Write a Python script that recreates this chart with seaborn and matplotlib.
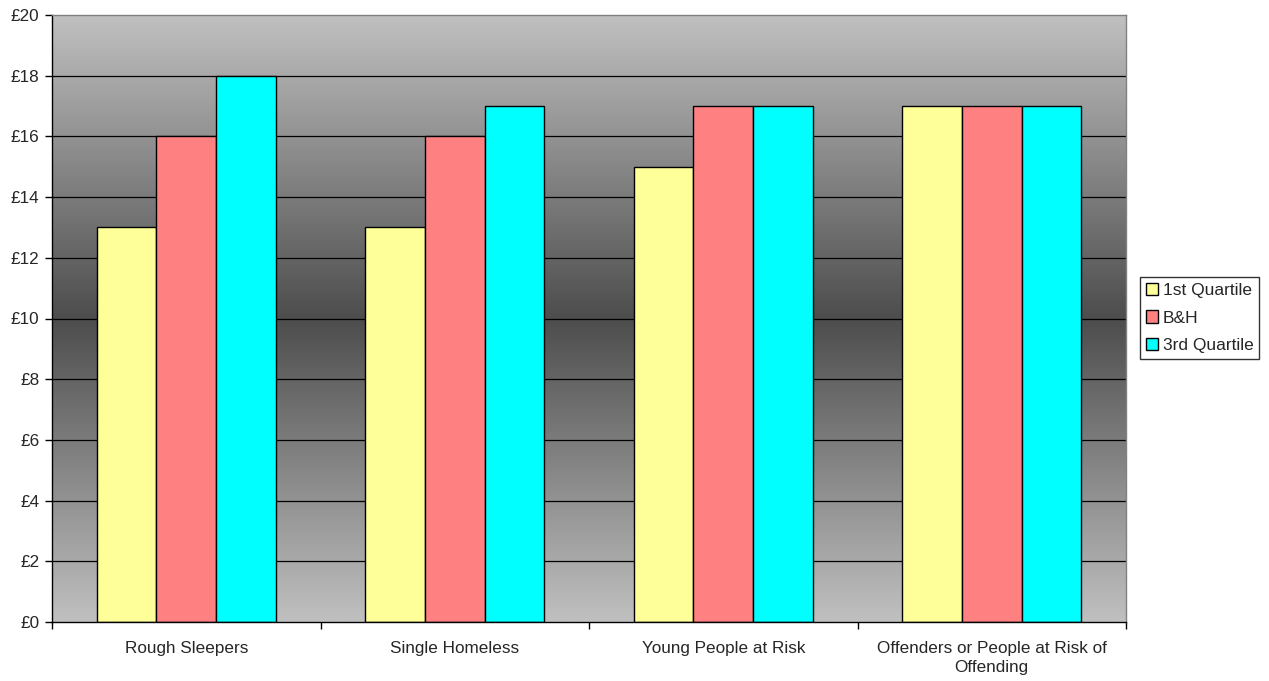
import numpy as np
import pandas as pd
import matplotlib
matplotlib.use("Agg")
import matplotlib.pyplot as plt
import seaborn as sns
from matplotlib.colors import LinearSegmentedColormap
from matplotlib.ticker import FixedLocator, FuncFormatter

categories = ["Rough Sleepers", "Single Homeless", "Young People at Risk",
              "Offenders or People at Risk of\nOffending"]
series = ["1st Quartile", "B&H", "3rd Quartile"]
first_quartile = [13, 13, 15, 17]
bh = [16, 16, 17, 17]
third_quartile = [18, 17, 17, 17]
colors = ["#FFFF99", "#FF8080", "#00FFFF"]

df = pd.DataFrame({
    "category": categories * 3,
    "series": [s for s in series for _ in categories],
    "value": first_quartile + bh + third_quartile,
})

sns.set_style("white")
plt.rcParams["font.family"] = ["Liberation Sans", "DejaVu Sans"]

fig = plt.figure(figsize=(12.69, 6.81), dpi=100)
ax = fig.add_axes([52 / 1269, 59 / 681, (1126 - 52) / 1269, (622 - 15) / 681])

# Vertical gradient background: light at top and bottom, dark in the middle
grad_cmap = LinearSegmentedColormap.from_list(
    "bg", [(0.0, "#C0C0C0"), (0.5, "#4D4D4D"), (1.0, "#C0C0C0")])
grad = np.linspace(0, 1, 256).reshape(-1, 1)
ax.imshow(grad, cmap=grad_cmap, aspect="auto", extent=[0, 1, 0, 1],
          transform=ax.transAxes, zorder=0)

for y in range(2, 20, 2):
    ax.axhline(y, color="black", linewidth=0.9, zorder=1)

sns.barplot(data=df, x="category", y="value", hue="series", palette=colors,
            hue_order=series, order=categories, width=0.667, edgecolor="black",
            linewidth=1.0, saturation=1, ax=ax, zorder=2, legend=True)

ax.set_xlim(-0.5, len(categories) - 0.5)
ax.set_ylim(0, 20)
ax.set_yticks(range(0, 21, 2))
ax.yaxis.set_major_formatter(FuncFormatter(lambda v, _: f"£{int(v)}"))
ax.tick_params(axis="y", direction="out", length=5, width=1, color="black",
               labelsize=12.3, pad=4, left=True)

ax.xaxis.set_major_locator(FixedLocator(np.arange(-0.5, len(categories), 1.0)))
ax.xaxis.set_major_formatter(FuncFormatter(lambda v, _: ""))
ax.xaxis.set_minor_locator(FixedLocator(np.arange(len(categories))))
ax.set_xticklabels(categories, minor=True)
for lbl in ax.get_xticklabels(minor=True):
    lbl.set_linespacing(1.3)
ax.tick_params(axis="x", which="major", direction="out", length=5, width=1,
               color="black", bottom=True)
ax.tick_params(axis="x", which="minor", length=0, labelsize=12.3, pad=14)

ax.set_xlabel("")
ax.set_ylabel("")

for side in ("left", "bottom"):
    ax.spines[side].set_color("black")
    ax.spines[side].set_linewidth(1)
for side in ("top", "right"):
    ax.spines[side].set_color("#808080")
    ax.spines[side].set_linewidth(1)

leg = ax.legend(loc="center left", bbox_to_anchor=(1140 / 1269, 0.533),
                bbox_transform=fig.transFigure, frameon=True, fancybox=False,
                edgecolor="black", fontsize=12.5, handlelength=0.7,
                handleheight=0.7, handletextpad=0.25, borderpad=0.35,
                labelspacing=0.7, borderaxespad=0)
leg.get_frame().set_linewidth(1)

fig.savefig("out.png", dpi=100, facecolor="white")
